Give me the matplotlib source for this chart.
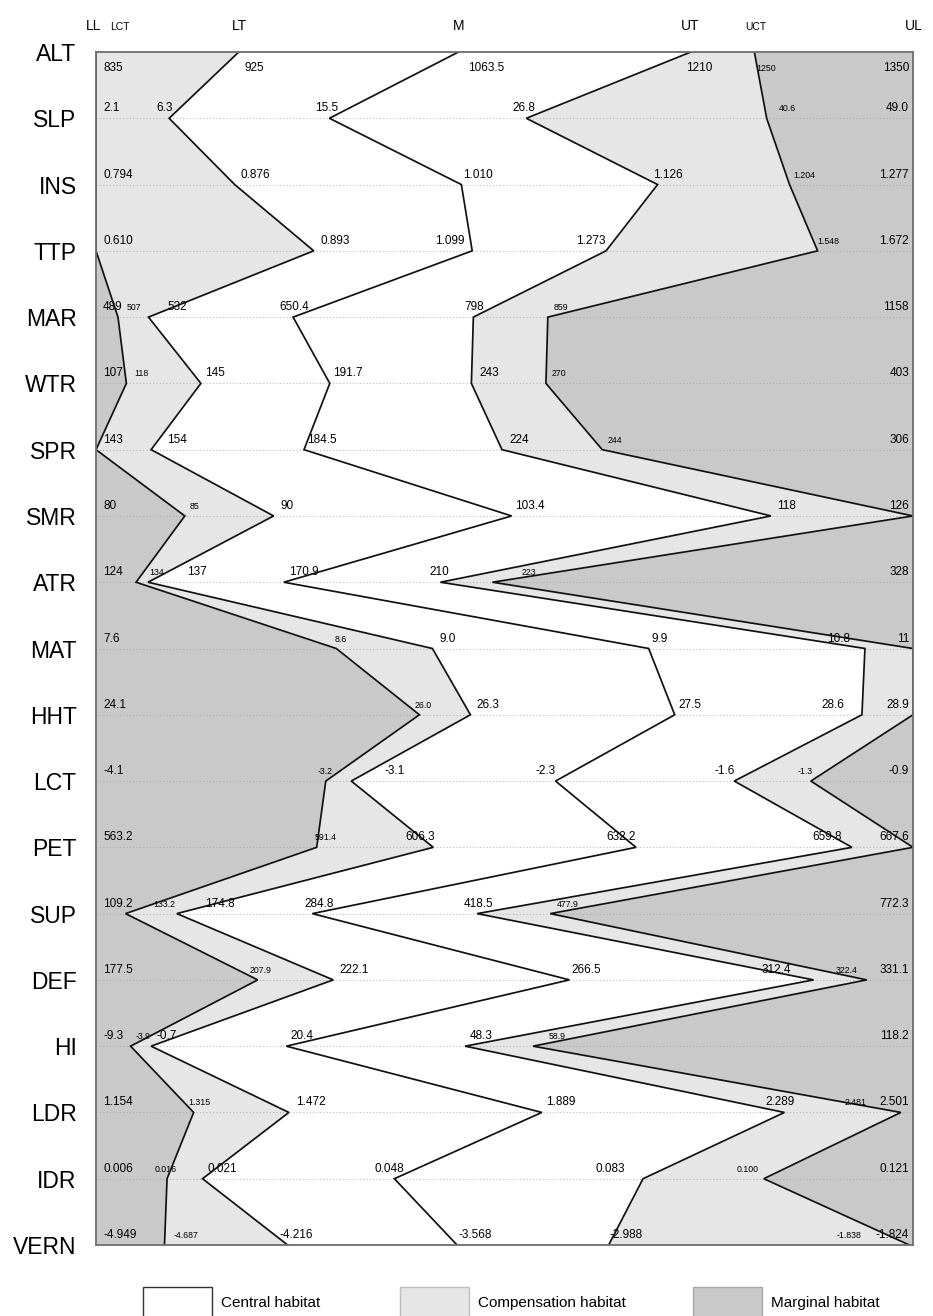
import matplotlib
matplotlib.use("Agg")
import numpy as np
import matplotlib.pyplot as plt
from matplotlib.patches import Rectangle
from matplotlib.transforms import offset_copy

# ---------------------------------------------------------------------------
# Habitat profile: per variable, lower limit (LL), lower compensation
# threshold (LCT), lower threshold (LT), mean (M), upper threshold (UT),
# upper compensation threshold (UCT) and upper limit (UL)
# ---------------------------------------------------------------------------
variables = ["ALT", "SLP", "INS", "TTP", "MAR", "WTR", "SPR", "SMR", "ATR", "MAT",
             "HHT", "LCT", "PET", "SUP", "DEF", "HI", "LDR", "IDR", "VERN"]

ll  = ["835", "2.1", "0.794", "0.610", "489", "107", "143", "80", "124", "7.6",
       "24.1", "-4.1", "563.2", "109.2", "177.5", "-9.3", "1.154", "0.006", "-4.949"]
lct = ["835", "2.1", "0.794", "0.610", "507", "118", "143", "85", "134", "8.6",
       "26.0", "-3.2", "591.4", "133.2", "207.9", "-3.9", "1.315", "0.016", "-4.687"]
lt  = ["925", "6.3", "0.876", "0.893", "532", "145", "154", "90", "137", "9.0",
       "26.3", "-3.1", "606.3", "174.8", "222.1", "-0.7", "1.472", "0.021", "-4.216"]
mid = ["1063.5", "15.5", "1.010", "1.099", "650.4", "191.7", "184.5", "103.4", "170.9", "9.9",
       "27.5", "-2.3", "632.2", "284.8", "266.5", "20.4", "1.889", "0.048", "-3.568"]
ut  = ["1210", "26.8", "1.126", "1.273", "798", "243", "224", "118", "210", "10.8",
       "28.6", "-1.6", "659.8", "418.5", "312.4", "48.3", "2.289", "0.083", "-2.988"]
uct = ["1250", "40.6", "1.204", "1.548", "859", "270", "244", "126", "223", "11",
       "28.9", "-1.3", "667.6", "477.9", "322.4", "58.9", "2.481", "0.100", "-1.838"]
ul  = ["1350", "49.0", "1.277", "1.672", "1158", "403", "306", "126", "328", "11",
       "28.9", "-0.9", "667.6", "772.3", "331.1", "118.2", "2.501", "0.121", "-1.824"]

legend_labels = ["Central habitat", "Compensation habitat", "Marginal habitat"]

# horizontal shift (px) of each threshold label's left edge from its vertex
# columns: LCT, LT, M, UT, UCT
label_dx = [
    [0, 6, 10, -5, 2],
    [0, -13, -14, -14, 12],
    [0, 6, 2, -5, 4],
    [0, 7, -37, -30, 0],
    [9, 19, -14, -9, 6],
    [8, 4, 3, 8, 6],
    [0, 16, 3, 7, 5],
    [5, 7, 3, 6, 0],
    [13, 39, 5, -11, 29],
    [-2, 7, 3, -38, 0],
    [-5, 6, 4, -41, 0],
    [-8, 33, -20, -20, -13],
    [-2, -28, -30, -40, 0],
    [28, 28, -8, -13, 7],
    [-8, 6, 2, -52, -31],
    [5, 5, 4, 5, 16],
    [-5, 7, 4, -19, -56],
    [-12, 5, -20, -48, -27],
    [9, -8, 1, 1, -73],
]

FONT = ["Liberation Sans", "DejaVu Sans"]
DARK = "#c9c9c9"
LIGHT = "#e6e6e6"
LINE = "#111111"

W, H = 933, 1316
fig = plt.figure(figsize=(W / 100, H / 100), dpi=100)
ax = fig.add_axes([96 / W, (H - 1245) / H, 817 / W, 1193 / H])

# position of every value inside its own LL..UL range
lo = np.array([float(v) for v in ll])
hi = np.array([float(v) for v in ul])
cols = [lct, lt, mid, ut, uct]
frac = [(np.array([float(v) for v in c]) - lo) / (hi - lo) for c in cols]
f_lct, f_lt, f_m, f_ut, f_uct = frac
y = np.arange(len(variables))

ax.fill_betweenx(y, 0, f_lct, color=DARK, lw=0)
ax.fill_betweenx(y, f_lct, f_lt, color=LIGHT, lw=0)
ax.fill_betweenx(y, f_lt, f_ut, color="white", lw=0)
ax.fill_betweenx(y, f_ut, f_uct, color=LIGHT, lw=0)
ax.fill_betweenx(y, f_uct, 1, color=DARK, lw=0)

ax.hlines(y, 0, 1, colors="#a0a0a0", linestyles=(0, (1, 2)), lw=0.8, alpha=0.7, zorder=2)

for f in frac:
    ax.plot(f, y, color=LINE, lw=1.25, zorder=3, solid_joinstyle="miter")

ax.set_xlim(0, 1)
ax.set_ylim(len(variables) - 1, 0)
ax.set_xticks([])
ax.set_yticks(y, variables)
ax.tick_params(axis="y", length=0, pad=14)
for t in ax.get_yticklabels():
    t.set_fontfamily(FONT)
    t.set_fontsize(16.5)
for s in ax.spines.values():
    s.set_color("#6e6e6e")
    s.set_linewidth(1.3)
    s.set_zorder(4)

# value labels
for i in range(len(variables)):
    dy = -19 if i == 0 else 7
    ax.text(0, i, ll[i], ha="left", va="baseline", fontsize=8.5, family=FONT,
            transform=offset_copy(ax.transData, fig, x=7, y=dy, units="dots"), zorder=5)
    ax.text(1, i, ul[i], ha="right", va="baseline", fontsize=8.5, family=FONT,
            transform=offset_copy(ax.transData, fig, x=-4, y=dy, units="dots"), zorder=5)
    for j, (c, f) in enumerate(zip(cols, frac)):
        if c[i] == ll[i] or c[i] == ul[i]:
            continue
        small = j in (0, 4)
        ax.text(f[i], i, c[i], ha="left", va="baseline",
                fontsize=6.3 if small else 8.5, family=FONT,
                transform=offset_copy(ax.transData, fig, x=label_dx[i][j], y=dy, units="dots"),
                zorder=5)

# column headers above the first row
headers = [("LL", 0, -2, False), ("LCT", 0, 24, True), ("LT", f_lt[0], 1, False),
           ("M", f_m[0], 0, False), ("UT", f_ut[0], -1, False), ("UCT", f_uct[0], 1, True),
           ("UL", 1, 1, False)]
for name, xf, dx, small in headers:
    ax.text(xf, 0, name, ha="center", va="baseline",
            fontsize=7.5 if small else 10, family=FONT,
            transform=offset_copy(ax.transData, fig, x=dx, y=22, units="dots"), clip_on=False)

# legend
boxes = [(143, "white", "#333333"), (400, LIGHT, "#bdbdbd"), (693, DARK, "#a9a9a9")]
for (x0, fc, ec), lab in zip(boxes, legend_labels):
    fig.add_artist(Rectangle((x0 / W, -2 / H), 69 / W, 31 / H, transform=fig.transFigure,
                             facecolor=fc, edgecolor=ec, lw=1.0))
    fig.text((x0 + 78) / W, 13 / H, lab, ha="left", va="center", fontsize=11, family=FONT)

fig.savefig("out.png", dpi=100)
